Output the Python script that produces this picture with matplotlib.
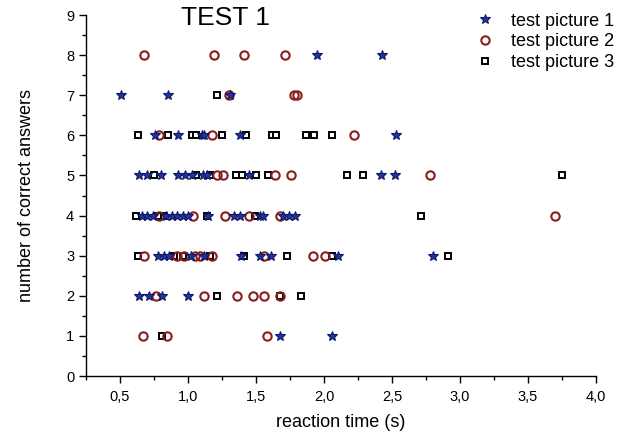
import matplotlib
matplotlib.use("Agg")
import matplotlib.pyplot as plt
from matplotlib.ticker import MultipleLocator, FuncFormatter

plt.rcParams["font.family"] = ["Liberation Sans", "DejaVu Sans"]

# reaction time (s) and number of correct answers
pic1_time = [1.95, 2.43,
             0.51, 0.85, 1.31,
             0.76, 0.93, 1.10, 1.12, 1.38, 2.53,
             0.64, 0.70, 0.80, 0.93, 0.98, 1.03, 1.11, 1.14, 1.45, 2.42, 2.52,
             0.66, 0.70, 0.74, 0.84, 0.88, 0.92, 0.96, 1.00, 1.15, 1.34, 1.38,
             1.53, 1.55, 1.70, 1.74, 1.79,
             0.78, 0.82, 0.86, 1.02, 1.12, 1.39, 1.53, 1.61, 2.10, 2.80,
             0.64, 0.715, 0.81, 1.00,
             1.68, 2.06]
pic1_correct = [8] * 2 + [7] * 3 + [6] * 6 + [5] * 11 + [4] * 16 + [3] * 10 + [2] * 4 + [1] * 2

pic2_time = [0.68, 1.19, 1.41, 1.71,
             1.30, 1.78, 1.80,
             0.79, 1.18, 2.22,
             1.21, 1.26, 1.64, 1.76, 2.78,
             0.79, 1.04, 1.27, 1.45, 1.68, 3.70,
             0.68, 0.92, 0.97, 1.05, 1.09, 1.18, 1.56, 1.92, 2.01,
             0.765, 1.12, 1.36, 1.475, 1.56, 1.675,
             0.67, 0.845, 1.58]
pic2_correct = [8] * 4 + [7] * 3 + [6] * 3 + [5] * 5 + [4] * 6 + [3] * 9 + [2] * 6 + [1] * 3

pic3_time = [1.21,
             0.63, 0.85, 1.03, 1.06, 1.25, 1.43, 1.62, 1.65, 1.87, 1.93, 2.06,
             0.75, 1.06, 1.16, 1.35, 1.40, 1.50, 1.59, 2.17, 2.29, 3.75,
             0.62, 0.78, 0.82, 1.14, 1.49, 2.71,
             0.63, 0.90, 0.96, 1.16, 1.41, 1.73, 2.06, 2.91,
             1.21, 1.68, 1.83,
             0.81]
pic3_correct = [7] * 1 + [6] * 11 + [5] * 10 + [4] * 6 + [3] * 8 + [2] * 3 + [1] * 1

fig = plt.figure(figsize=(6.28, 4.32), dpi=100)
ax = fig.add_axes([86 / 628, 1 - 376 / 432, 510 / 628, 361 / 432])

ax.plot(pic1_time, pic1_correct, linestyle="none", marker="*", markersize=7.5,
        markerfacecolor="#2233a0", markeredgecolor="#101a66", markeredgewidth=0.8,
        label="test picture 1", zorder=4)
ax.plot(pic2_time, pic2_correct, linestyle="none", marker="o", markersize=6,
        markerfacecolor="none", markeredgecolor="#8a1c1c", markeredgewidth=1.5,
        label="test picture 2", zorder=3)
ax.plot(pic3_time, pic3_correct, linestyle="none", marker="s", markersize=5,
        markerfacecolor="white", markeredgecolor="black", markeredgewidth=1.4,
        label="test picture 3", zorder=2)

ax.set_xlim(0.25, 4.0)
ax.set_ylim(0, 9)
ax.xaxis.set_major_locator(MultipleLocator(0.5))
ax.xaxis.set_minor_locator(MultipleLocator(0.25))
ax.yaxis.set_major_locator(MultipleLocator(1))
ax.yaxis.set_minor_locator(MultipleLocator(0.5))
ax.xaxis.set_major_formatter(FuncFormatter(lambda v, pos: f"{v:.1f}".replace(".", ",")))

ax.spines["top"].set_visible(False)
ax.spines["right"].set_visible(False)
for side in ("left", "bottom"):
    ax.spines[side].set_linewidth(1.0)
ax.tick_params(which="major", direction="out", length=5, width=1.0, labelsize=10.5)
ax.tick_params(axis="x", which="major", pad=5)
ax.tick_params(which="minor", direction="out", length=3, width=1.0)

ax.set_xlabel("reaction time (s)", fontsize=13, labelpad=7)
ax.set_ylabel("number of correct answers", fontsize=13, labelpad=22)

fig.text(225 / 628, 1 - 18 / 432, "TEST 1", fontsize=19, ha="center", va="center")

ax.legend(loc="upper left", bbox_to_anchor=(462 / 628, 1.0),
          bbox_transform=fig.transFigure, frameon=False, fontsize=13,
          handlelength=1.2, handletextpad=0.8, labelspacing=0.2, borderpad=0.2)

fig.savefig("out.png", dpi=100)
